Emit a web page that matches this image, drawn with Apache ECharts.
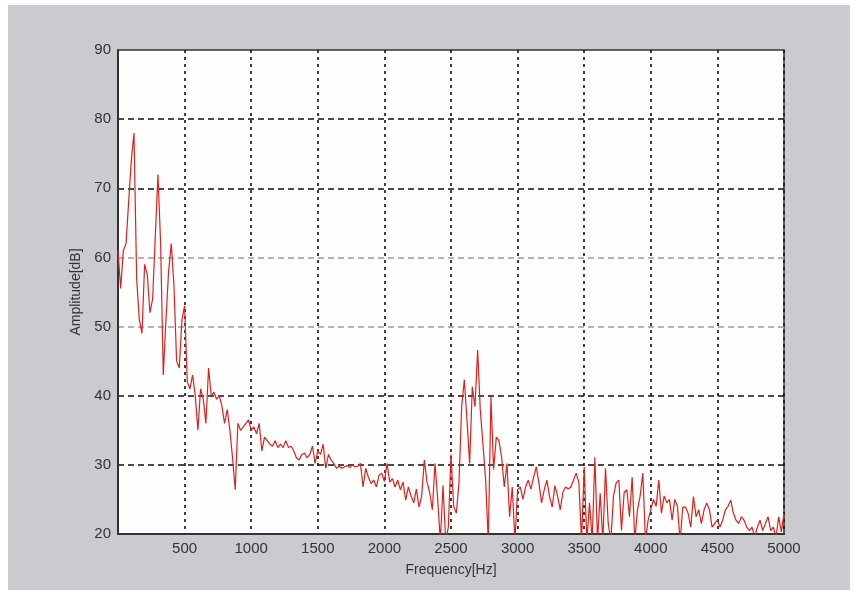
<!DOCTYPE html>
<html>
<head>
<meta charset="utf-8">
<script src="https://cdn.jsdelivr.net/npm/echarts@6/dist/echarts.min.js"></script>
<style>
  html, body { margin: 0; padding: 0; background: #ffffff; }
  #frame { position: absolute; left: 8px; top: 5px; width: 842px; height: 585px; background: #c9cbcf; }
  #chart { position: absolute; left: 0; top: 0; width: 854px; height: 594px; }
</style>
</head>
<body>
<div id="frame"></div>
<div id="chart"></div>
<script>
// Sampling step of the spectrum (Hz)
const STEP = 20;
// Amplitude [dB], one value per STEP Hz, from 0 Hz to 5000 Hz
const amp0to1000 = [
  61, 55.5, 61, 62, 68, 74, 78, 57, 51, 49,
  59, 57.5, 52, 54, 63, 72, 62, 43, 51, 58,
  62, 56, 45, 44, 51, 53, 42, 41, 43, 40,
  35, 41, 39.5, 36, 44, 40, 40.5, 39.5, 40, 38.5,
  36, 38, 35, 31, 26.4, 36, 35, 35.5, 36, 36.5
];
const amp1000to2000 = [
  35, 35.5, 34.5, 36, 32, 34, 33.5, 33, 32.7, 33.5,
  32.5, 33, 32.5, 33.5, 32.5, 32.7, 32, 31, 30.7, 31.5,
  31.7, 31, 31.5, 32.7, 30.2, 32, 31.5, 33, 29.5, 31.5,
  30.7, 30.2, 29.5, 29.8, 29.5, 29.7, 29.9, 29.6, 30, 29.7,
  29.8, 30.2, 26.8, 29.5, 28.2, 27.3, 27.8, 26.8, 28.5, 28.8
];
const amp2000to3000 = [
  27.6, 30.2, 27.5, 28, 26.8, 27.8, 26.4, 27.5, 24.9, 26.8,
  25.5, 24.5, 26.5, 23.9, 25.5, 30.7, 27.5, 26, 23.5, 30.2,
  25, 19, 27, 19, 21, 31.5, 24, 23, 27.4, 38.4,
  42.3, 36.5, 30.2, 41.3, 38.4, 46.6, 37.9, 33, 27.8, 19,
  39.8, 29.3, 34, 33.5, 31.1, 26.8, 30.2, 22.5, 26.8, 19
];
const amp3000to4000 = [
  26.4, 26.8, 25, 26.8, 27.8, 26.5, 28.2, 29.7, 27.4, 24.5,
  26.4, 27.8, 25.4, 23.9, 27, 25.5, 23.5, 26, 26.8, 26.5,
  26.8, 27.8, 28.8, 27.4, 19, 29.7, 19, 24.5, 19, 31.1,
  19, 25.9, 19, 29.5, 21.6, 19, 25.5, 27.4, 27.8, 20.5,
  26, 26.4, 22.5, 28.2, 19, 23.5, 25.5, 28.8, 19, 22
];
const amp4000to5000 = [
  23.5, 25, 24, 27.8, 23, 25.5, 24.5, 25, 22, 25,
  24, 19, 23.9, 23.9, 23, 21, 25.4, 22.5, 23.5, 21.5,
  23.5, 24.5, 23.5, 21, 21.5, 22, 21, 22, 23.5, 24,
  24.9, 23, 22, 21.5, 22.5, 22, 21, 20.5, 21, 19.5,
  21, 22, 20.5, 21.5, 22.5, 20.5, 21, 19.5, 22.5, 20.3,
  23
];
const amplitude = [].concat(amp0to1000, amp1000to2000, amp2000to3000, amp3000to4000, amp4000to5000);

// Axis settings
const xMin = 0, xMax = 5000, xInterval = 500;
const yMin = 20, yMax = 90, yInterval = 10;
const xName = 'Frequency[Hz]';
const yName = 'Amplitude[dB]';

const seriesData = amplitude.map((v, i) => [i * STEP, v]);

const chart = echarts.init(document.getElementById('chart'), null, { renderer: 'canvas' });
const font = '"Liberation Sans", Arial, sans-serif';
chart.setOption({
  animation: false,
  backgroundColor: 'transparent',
  grid: {
    left: 118, right: 70, top: 50, bottom: 60,
    show: true, backgroundColor: '#fefefe', borderColor: '#333', borderWidth: 1.5
  },
  xAxis: {
    type: 'value', min: xMin, max: xMax, interval: xInterval,
    name: xName, nameLocation: 'middle', nameGap: 29,
    nameTextStyle: { fontFamily: font, fontSize: 14, color: '#333' },
    axisLine: { show: true, onZero: false, lineStyle: { color: '#333', width: 2 } },
    axisTick: { show: false },
    axisLabel: {
      fontFamily: font, fontSize: 15, color: '#333', margin: 7,
      formatter: v => (v === 0 ? '' : String(v))
    },
    splitLine: { show: true, lineStyle: { color: '#111', type: [3, 4], width: 1.6 } }
  },
  yAxis: {
    type: 'value', min: yMin, max: yMax, interval: yInterval,
    name: yName, nameLocation: 'middle', nameGap: 33,
    nameTextStyle: { fontFamily: font, fontSize: 14, color: '#333' },
    axisLine: { show: true, lineStyle: { color: '#333', width: 2 } },
    axisTick: { show: false },
    axisLabel: { fontFamily: font, fontSize: 15, color: '#333', margin: 7 },
    splitLine: {
      show: true,
      lineStyle: {
        color: ['transparent', '#111', '#111', '#9a9a9a', '#9a9a9a', '#111', '#111', 'transparent'],
        type: [6, 4], width: 1.6
      }
    }
  },
  series: [{
    type: 'line',
    data: seriesData,
    showSymbol: false,
    clip: true,
    lineStyle: { color: '#e0201c', width: 1.2 },
    z: 5
  }]
});
</script>
</body>
</html>
